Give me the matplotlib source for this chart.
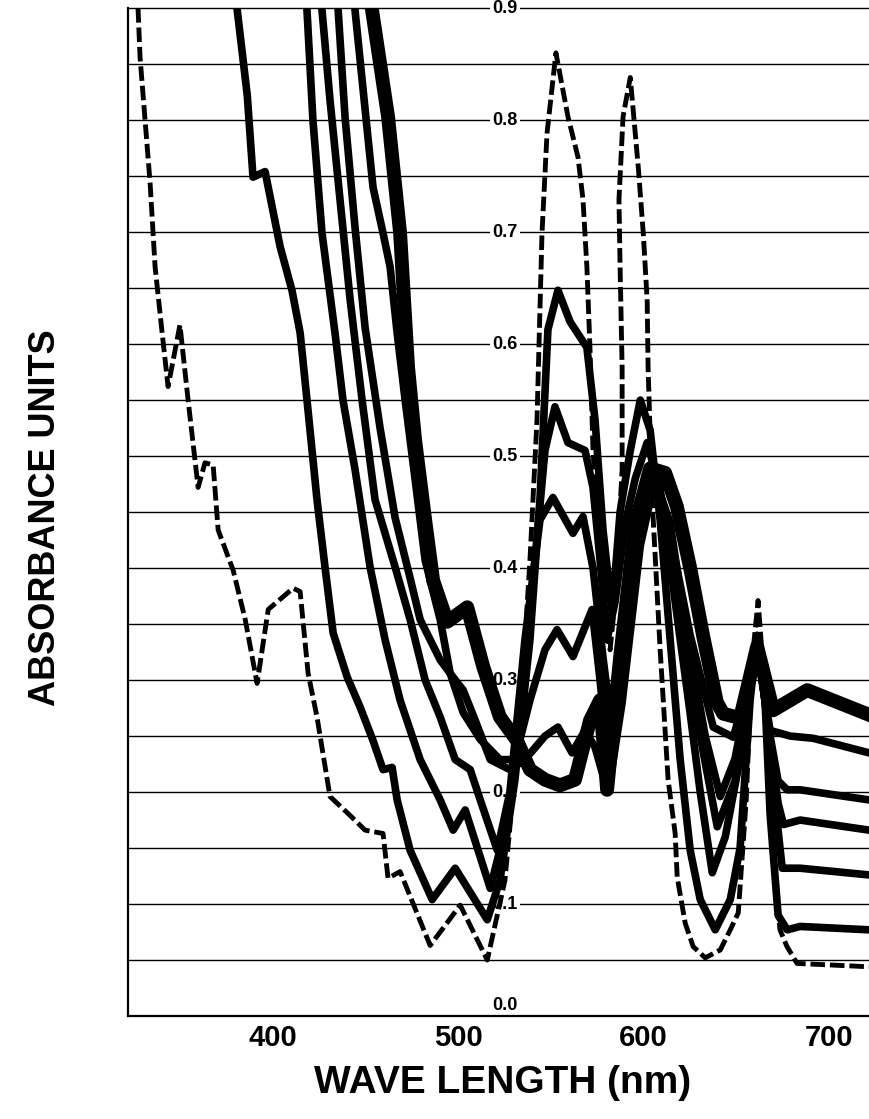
import numpy as np
import matplotlib
matplotlib.use("Agg")
import matplotlib.pyplot as plt
from matplotlib import font_manager

# narrow bold face for the lettering
names = {f.name for f in font_manager.fontManager.ttflist}
COND = 'Liberation Sans Narrow' if 'Liberation Sans Narrow' in names else 'Liberation Sans'

# ---- data (wavelength nm, absorbance) ----
wl_ref = [327.5, 328.6, 334.0, 336.7, 340.5, 343.7, 350.1, 354.5, 359.9, 363.6, 368.0,
          370.7, 378.8, 385.3, 391.7, 397.7, 411.1, 414.9, 419.2, 424.0, 431.0, 441.9,
          449.9, 459.6, 462.3, 468.8, 485.0, 501.2, 515.8, 525.3, 533.4, 538.8, 542.6,
          545.3, 548.0, 552.8, 559.3, 564.7, 567.4, 569.5, 571.2, 572.8, 575.5, 579.3,
          582.0, 584.7, 588.5, 588.5, 587.4, 586.8, 589.0, 592.9, 597.2, 599.9, 602.0,
          602.5, 604.7, 609.0, 613.3, 617.1, 618.2, 622.5, 626.8, 633.3, 641.4, 646.8,
          651.1, 655.4, 658.6, 661.8, 665.0, 669.3, 673.6, 677.4, 682.8, 721.6]
abs_ref = [0.900, 0.856, 0.744, 0.669, 0.610, 0.562, 0.617, 0.550, 0.472, 0.494, 0.492,
           0.434, 0.398, 0.354, 0.297, 0.363, 0.382, 0.379, 0.306, 0.267, 0.196, 0.179,
           0.166, 0.163, 0.123, 0.129, 0.063, 0.099, 0.050, 0.121, 0.264, 0.407, 0.532,
           0.699, 0.788, 0.860, 0.803, 0.767, 0.729, 0.669, 0.595, 0.505, 0.434, 0.354,
           0.327, 0.371, 0.488, 0.579, 0.669, 0.729, 0.803, 0.838, 0.758, 0.699, 0.639,
           0.579, 0.461, 0.327, 0.211, 0.163, 0.124, 0.083, 0.062, 0.052, 0.059, 0.077,
           0.092, 0.193, 0.318, 0.371, 0.300, 0.148, 0.077, 0.062, 0.047, 0.044]

wl_a = [381.0, 386.4, 389.5, 396.0, 404.1, 410.5, 414.9, 418.6, 424.0, 428.3, 432.7,
        440.2, 447.2, 454.2, 459.6, 464.5, 467.2, 474.2, 486.1, 498.5, 515.8, 522.6,
        530.7, 538.8, 544.2, 548.5, 553.9, 560.4, 569.5, 573.9, 578.2, 583.1, 587.4,
        592.9, 598.3, 603.6, 609.0, 614.4, 619.8, 625.2, 630.6, 638.7, 646.8, 652.1,
        657.5, 661.3, 665.6, 668.3, 672.6, 677.5, 684.5, 721.6]
abs_a = [0.898, 0.822, 0.749, 0.754, 0.687, 0.648, 0.610, 0.550, 0.461, 0.401, 0.342,
         0.303, 0.276, 0.246, 0.220, 0.222, 0.193, 0.148, 0.104, 0.132, 0.086, 0.121,
         0.211, 0.336, 0.461, 0.613, 0.648, 0.620, 0.597, 0.532, 0.434, 0.360, 0.450,
         0.505, 0.550, 0.523, 0.443, 0.336, 0.229, 0.148, 0.104, 0.077, 0.104, 0.150,
         0.282, 0.340, 0.280, 0.180, 0.090, 0.077, 0.080, 0.077]

wl_b = [418.6, 421.8, 426.7, 433.7, 438.0, 444.5, 452.6, 460.7, 468.8, 479.6, 490.4,
        497.4, 503.9, 517.4, 525.3, 533.4, 541.5, 546.9, 552.3, 559.3, 568.5, 572.8,
        576.6, 580.4, 584.7, 590.2, 595.6, 602.0, 609.0, 617.1, 625.2, 630.6, 637.1,
        644.1, 652.1, 657.5, 661.8, 665.6, 671.0, 674.8, 684.5, 721.6]
abs_b = [0.898, 0.800, 0.699, 0.610, 0.550, 0.488, 0.401, 0.336, 0.282, 0.229, 0.193,
         0.166, 0.184, 0.114, 0.166, 0.246, 0.407, 0.505, 0.544, 0.512, 0.505, 0.472,
         0.407, 0.336, 0.370, 0.440, 0.480, 0.512, 0.470, 0.370, 0.270, 0.200, 0.128,
         0.160, 0.230, 0.300, 0.330, 0.280, 0.190, 0.132, 0.132, 0.126]

wl_c = [426.7, 431.0, 436.4, 441.9, 448.3, 455.3, 466.1, 474.2, 482.3, 490.4, 498.5,
        506.6, 512.0, 521.2, 528.0, 536.1, 544.2, 551.2, 562.0, 567.4, 572.8, 578.2,
        582.0, 587.4, 595.6, 604.7, 611.7, 619.8, 630.6, 639.8, 649.4, 657.5, 661.8,
        667.2, 672.6, 675.5, 684.5, 721.6]
abs_c = [0.898, 0.818, 0.729, 0.639, 0.550, 0.461, 0.401, 0.354, 0.300, 0.267, 0.229,
         0.220, 0.193, 0.148, 0.200, 0.336, 0.443, 0.463, 0.431, 0.446, 0.400, 0.320,
         0.270, 0.330, 0.440, 0.489, 0.450, 0.370, 0.250, 0.169, 0.210, 0.300, 0.330,
         0.260, 0.190, 0.171, 0.175, 0.166]

wl_d = [435.4, 439.1, 444.5, 449.9, 458.0, 466.1, 474.2, 479.6, 490.4, 495.8, 502.8,
        512.0, 522.6, 530.7, 538.8, 546.9, 553.4, 562.0, 572.3, 576.6, 582.0, 588.5,
        598.3, 606.3, 614.4, 622.5, 633.3, 641.4, 649.4, 657.5, 661.8, 667.2, 672.6,
        677.5, 684.5, 721.6]
abs_d = [0.898, 0.803, 0.704, 0.615, 0.525, 0.445, 0.391, 0.354, 0.318, 0.306, 0.271,
         0.247, 0.229, 0.229, 0.282, 0.327, 0.345, 0.321, 0.363, 0.300, 0.210, 0.280,
         0.420, 0.480, 0.440, 0.350, 0.250, 0.196, 0.230, 0.300, 0.330, 0.260, 0.210,
         0.202, 0.202, 0.193]

wl_e = [444.5, 454.2, 459.6, 463.4, 467.2, 471.5, 476.9, 482.3, 490.4, 495.8, 502.8,
        509.3, 517.4, 528.0, 536.1, 546.9, 553.9, 561.5, 568.5, 573.9, 580.4, 587.4,
        598.3, 606.3, 614.4, 625.2, 637.6, 648.4, 657.5, 661.8, 668.3, 679.1, 691.5,
        721.6]
abs_e = [0.898, 0.740, 0.699, 0.669, 0.610, 0.550, 0.479, 0.407, 0.354, 0.306, 0.291,
         0.264, 0.229, 0.220, 0.229, 0.250, 0.258, 0.235, 0.255, 0.240, 0.202, 0.280,
         0.440, 0.480, 0.430, 0.340, 0.258, 0.249, 0.300, 0.320, 0.255, 0.250, 0.248,
         0.235]

wl_f = [453.7, 462.3, 468.8, 473.1, 476.9, 482.3, 486.6, 494.2, 505.0, 513.6, 522.6,
        531.8, 538.8, 546.9, 555.0, 563.1, 571.2, 576.6, 580.4, 587.4, 595.6, 603.6,
        611.7, 618.0, 625.2, 632.1, 639.6, 643.0, 652.1, 661.3, 669.9, 688.3, 721.6]
abs_f = [0.898, 0.803, 0.699, 0.579, 0.514, 0.443, 0.389, 0.352, 0.365, 0.312, 0.267,
         0.246, 0.220, 0.211, 0.206, 0.211, 0.264, 0.282, 0.202, 0.320, 0.440, 0.489,
         0.485, 0.455, 0.400, 0.340, 0.280, 0.270, 0.266, 0.330, 0.273, 0.291, 0.269]

y_ticks = [0.0, 0.1, 0.2, 0.3, 0.4, 0.5, 0.6, 0.7, 0.8, 0.9]
x_ticks = [400, 500, 600, 700]

fig = plt.figure(figsize=(8.69, 11.19), dpi=100)
ax = fig.add_axes([0.1473, 0.0920, 0.8527, 0.9008])
ax.set_xlim(322.1, 721.6)
ax.set_ylim(0, 0.9)

# horizontal rulings every 0.05
for g in np.arange(0.05, 0.901, 0.05):
    ax.axhline(g, color='black', lw=1.0, zorder=1, clip_on=False)

# absorbance scale printed inside the plot
for v in y_ticks:
    ax.text(525.3, v + (0.002 if v == 0 else 0), f"{v:.1f}", ha='center',
            va='bottom' if v == 0 else 'center', fontsize=13, fontweight='bold',
            family=COND, zorder=2, clip_on=False,
            bbox=dict(boxstyle='square,pad=0.15', fc='white', ec='none'))

solid = [(wl_a, abs_a), (wl_b, abs_b), (wl_c, abs_c), (wl_d, abs_d), (wl_e, abs_e)]
for w, a in solid:
    ax.plot(w, a, color='black', lw=5.5, solid_joinstyle='round', zorder=3)
ax.plot(wl_f, abs_f, color='black', lw=10, solid_joinstyle='round', zorder=3)
ax.plot(wl_ref, abs_ref, color='black', lw=3.5, dashes=(3, 1.0), zorder=4)

for s in ['top', 'right']:
    ax.spines[s].set_visible(False)
for s in ['left', 'bottom']:
    ax.spines[s].set_linewidth(1.6)

ax.set_yticks([])
ax.set_xticks(x_ticks)
ax.set_xticklabels([str(t) for t in x_ticks], fontsize=21, fontweight='bold', family=COND)
ax.tick_params(axis='x', length=0, pad=6)

fig.text(0.052, 0.537, "ABSORBANCE UNITS", rotation=90, ha='center', va='center',
         fontsize=26, fontweight='bold', family=COND)
fig.text(0.578, 0.032, "WAVE LENGTH (nm)", ha='center', va='center',
         fontsize=28, fontweight='bold', family=COND)

fig.savefig('out.png', dpi=100)
